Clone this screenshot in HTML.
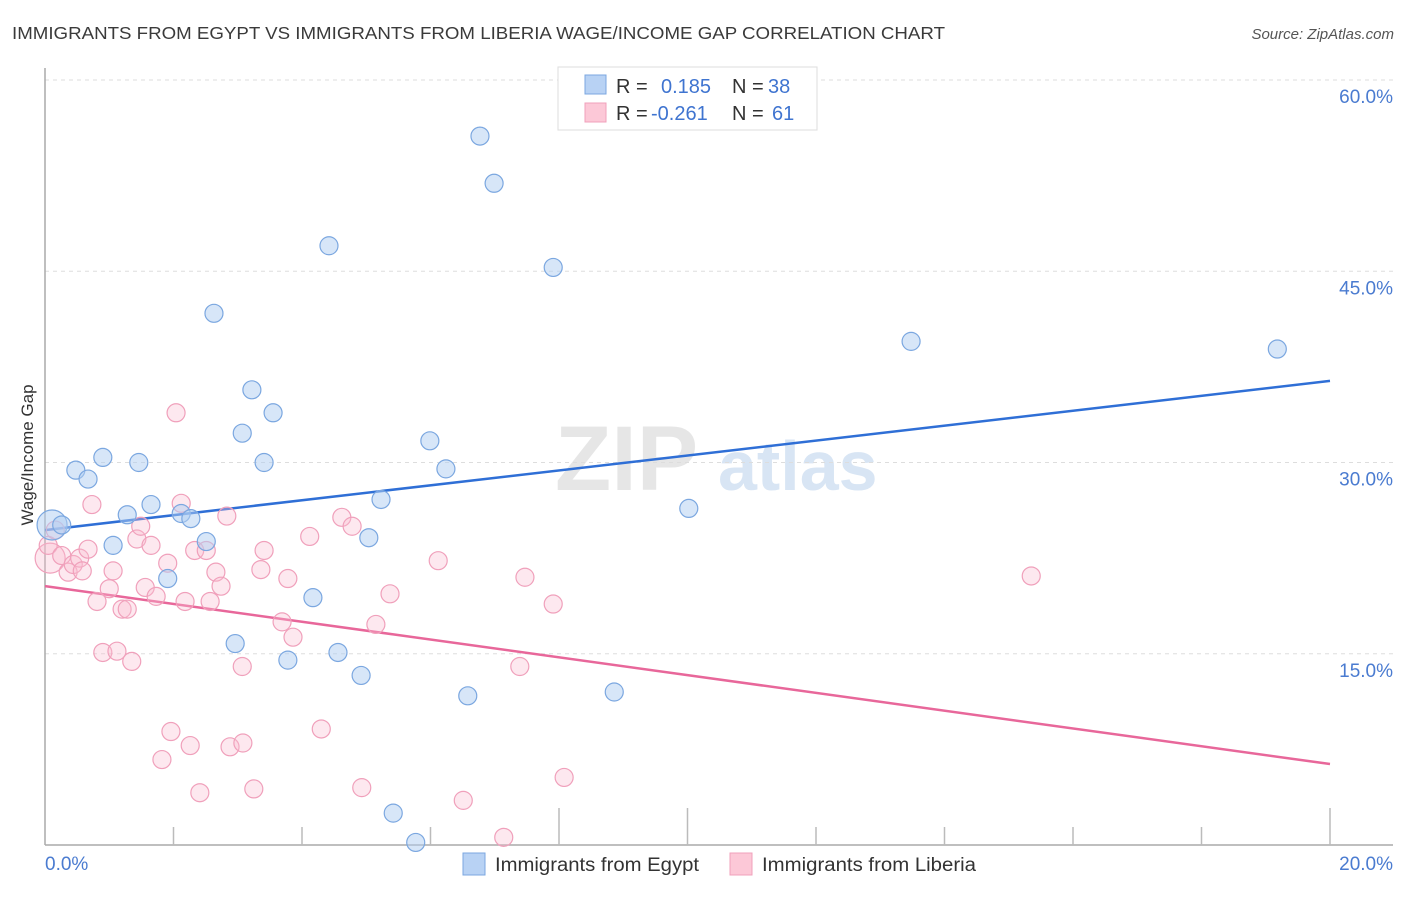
<!DOCTYPE html>
<html><head><meta charset="utf-8"><style>
body{margin:0;background:#fff;font-family:"Liberation Sans",sans-serif;}
svg text{font-family:"Liberation Sans",sans-serif;}
</style></head><body>
<svg id="chart" width="1406" height="892" xmlns="http://www.w3.org/2000/svg">
<text x="12" y="39" font-size="17.5" fill="#3a3a3a" textLength="933" lengthAdjust="spacingAndGlyphs">IMMIGRANTS FROM EGYPT VS IMMIGRANTS FROM LIBERIA WAGE/INCOME GAP CORRELATION CHART</text>
<text x="1394" y="39" font-size="15" fill="#555" text-anchor="end" font-style="italic">Source: ZipAtlas.com</text>
<g>
<text x="555" y="490" font-size="92" fill="#e6e6e6" font-family="Liberation Serif,serif" font-weight="bold">ZIP</text>
<text x="718" y="490" font-size="70" fill="#d8e5f4" font-weight="bold">atlas</text>
</g>
<g id="grid"></g>
<g id="axes"></g>
<g id="trend"></g>
<g id="pts"></g>
<text transform="translate(33,455) rotate(-90)" font-size="17" fill="#333" text-anchor="middle">Wage/Income Gap</text>
<g>
<rect x="558" y="67" width="259" height="63" fill="#fff" stroke="#ddd"/>
<rect x="585" y="75" width="21" height="19" fill="#b8d2f4" stroke="#7ba7e0"/>
<rect x="585" y="103" width="21" height="19" fill="#fcc8d7" stroke="#f0a0bb"/>
<text x="616" y="93" font-size="20" fill="#333">R =</text>
<text x="661" y="93" font-size="20" fill="#3f74d0">0.185</text>
<text x="732" y="93" font-size="20" fill="#333">N =</text>
<text x="768" y="93" font-size="20" fill="#3f74d0">38</text>
<text x="616" y="120" font-size="20" fill="#333">R =</text>
<text x="651" y="120" font-size="20" fill="#3f74d0">-0.261</text>
<text x="732" y="120" font-size="20" fill="#333">N =</text>
<text x="772" y="120" font-size="20" fill="#3f74d0">61</text>
</g>
<g>
<rect x="463" y="853" width="22" height="22" fill="#b8d2f4" stroke="#7ba7e0"/>
<text x="495" y="871" font-size="19" fill="#333" textLength="204" lengthAdjust="spacingAndGlyphs">Immigrants from Egypt</text>
<rect x="730" y="853" width="22" height="22" fill="#fcc8d7" stroke="#f0a0bb"/>
<text x="762" y="871" font-size="19" fill="#333" textLength="214" lengthAdjust="spacingAndGlyphs">Immigrants from Liberia</text>
</g>
</svg>
<script>
const yTicks=[15,30,45,60];
const yTickLabels=["15.0%","30.0%","45.0%","60.0%"];
const xTicks=[2,4,6,8,10,12,14,16,18,20];
const egyptX=[0.11,0.26,0.48,0.67,0.90,1.06,1.28,1.46,1.65,1.91,2.12,2.27,2.51,2.63,2.96,3.07,3.22,3.41,3.55,3.78,4.17,4.42,4.56,4.92,5.04,5.23,5.42,5.77,5.99,6.24,6.58,6.77,6.99,7.91,8.86,10.02,13.48,19.18];
const egyptY=[25.1,25.1,29.4,28.7,30.4,23.5,25.9,30.0,26.7,20.9,26.0,25.6,23.8,41.7,15.8,32.3,35.7,30.0,33.9,14.5,19.4,47.0,15.1,13.3,24.1,27.1,2.5,0.2,31.7,29.5,11.7,55.6,51.9,45.3,12.0,26.4,39.5,38.9];
const liberiaX=[0.08,0.05,0.16,0.26,0.36,0.44,0.54,0.58,0.67,0.73,0.81,0.90,1.00,1.06,1.12,1.20,1.28,1.35,1.43,1.49,1.56,1.65,1.73,1.82,1.91,1.96,2.04,2.12,2.18,2.26,2.33,2.41,2.51,2.57,2.66,2.74,2.83,2.88,3.07,3.08,3.25,3.36,3.41,3.69,3.78,3.86,4.12,4.30,4.62,4.78,4.93,5.15,5.37,6.12,6.51,7.14,7.39,7.47,7.91,8.08,15.35];
const liberiaY=[22.5,23.5,24.7,22.7,21.4,22.0,22.5,21.5,23.2,26.7,19.1,15.1,20.1,21.5,15.2,18.5,18.5,14.4,24.0,25.0,20.2,23.5,19.5,6.7,22.1,8.9,33.9,26.8,19.1,7.8,23.1,4.1,23.1,19.1,21.4,20.3,25.8,7.7,14.0,8.0,4.4,21.6,23.1,17.5,20.9,16.3,24.2,9.1,25.7,25.0,4.5,17.3,19.7,22.3,3.5,0.6,14.0,21.0,18.9,5.3,21.1];
const egyptTrend=[24.7,36.4];
const liberiaTrend=[20.3,6.35];
const NS="http://www.w3.org/2000/svg";
const X=v=>45+v*64.25, Y=v=>845-v*12.75;
function mk(t,a,p){const e=document.createElementNS(NS,t);for(const k in a)e.setAttribute(k,a[k]);p.appendChild(e);return e;}
const grid=document.getElementById('grid'),axes=document.getElementById('axes');
yTicks.forEach((t,i)=>{
 const l=mk('line',{x1:45,x2:1393,y1:Y(t),y2:Y(t),stroke:'#ddd','stroke-dasharray':'4,4'},grid);
 
 
 const tx=mk('text',{x:1393,y:Y(t)+23,'font-size':19,fill:'#4a7bd0','text-anchor':'end'},axes);
 tx.textContent=yTickLabels[i];
 
 
});
mk('line',{x1:45,x2:45,y1:68,y2:845,stroke:'#aaa','stroke-width':1.5},axes);
mk('line',{x1:45,x2:1393,y1:845,y2:845,stroke:'#aaa','stroke-width':1.5},axes);
xTicks.forEach(t=>{
 const tall=(t===8||t===10||t===20);
 const l=mk('line',{x1:X(t),x2:X(t),y1:tall?808:827,y2:845,stroke:'#bbb','stroke-width':1.5},axes);
 
 
});
const x0=mk('text',{x:45,y:870,'font-size':19,fill:'#4a7bd0'},axes);x0.textContent="0.0%";

const x1=mk('text',{x:1393,y:870,'font-size':19,fill:'#4a7bd0','text-anchor':'end'},axes);x1.textContent="20.0%";

const pts=document.getElementById('pts');
function dots(xs,ys,fill,stroke,name){xs.forEach((x,i)=>{
 const c=mk('circle',{cx:X(x),cy:Y(ys[i]),r:(i===0?15:9),fill:fill,stroke:stroke,'stroke-width':1.2},pts);
 
 
});}
dots(liberiaX,liberiaY,'rgba(250,190,210,0.35)','#f0a0bb','liberia-point');
dots(egyptX,egyptY,'rgba(175,205,242,0.5)','#7ba7e0','egypt-point');
const tr=document.getElementById('trend');
const lb=mk('line',{x1:X(0),y1:Y(egyptTrend[0]),x2:X(20),y2:Y(egyptTrend[1]),stroke:'#2f6fd6','stroke-width':2.5},tr);


const lp=mk('line',{x1:X(0),y1:Y(liberiaTrend[0]),x2:X(20),y2:Y(liberiaTrend[1]),stroke:'#e8679a','stroke-width':2.5},tr);


</script>
</body></html>
